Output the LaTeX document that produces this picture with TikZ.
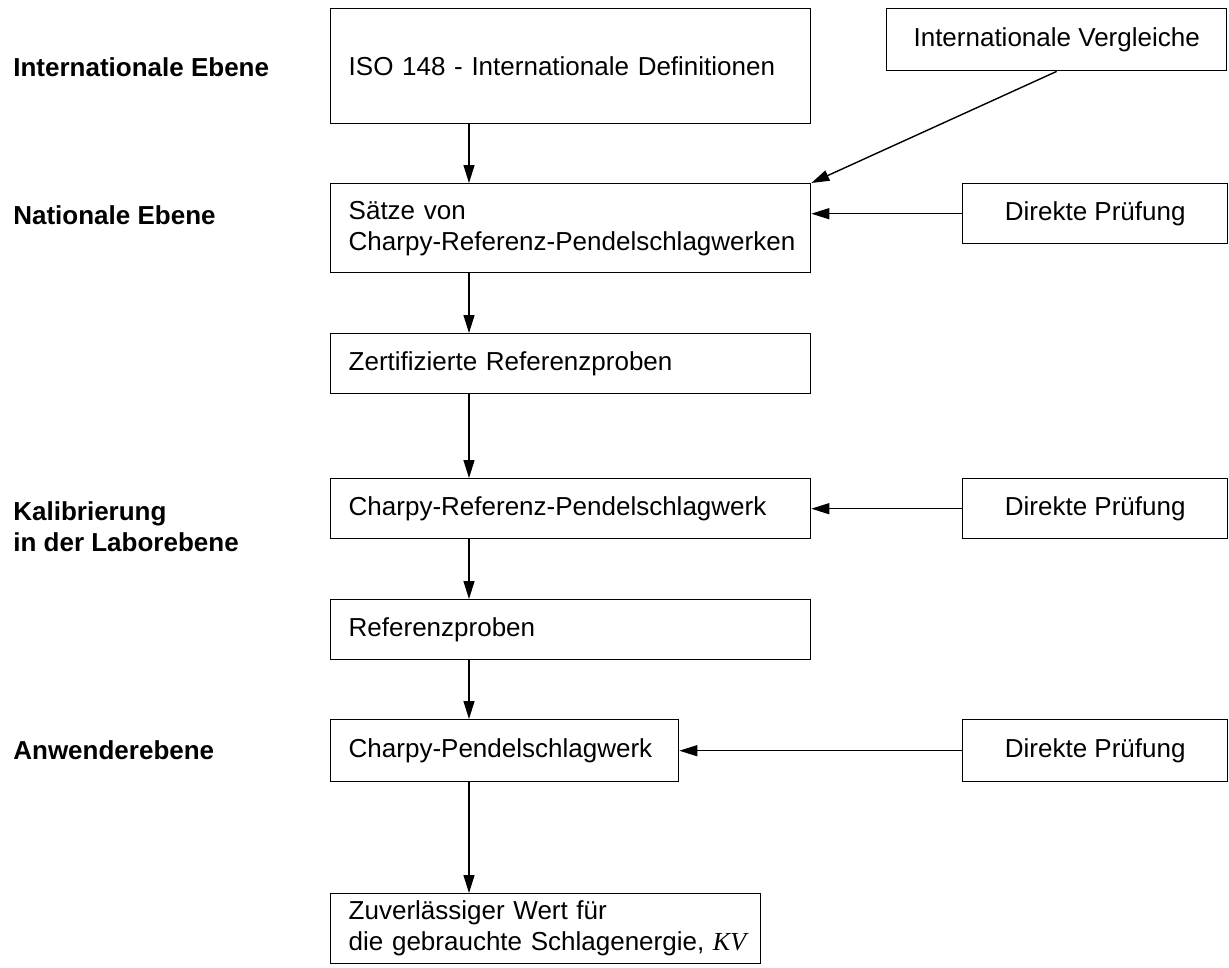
\documentclass[tikz,border=0pt]{standalone}
\usepackage{fontspec}
\setmainfont{Liberation Sans}
\newfontfamily\kvfont{Liberation Serif}
\usetikzlibrary{arrows.meta}

\begin{document}
\begin{tikzpicture}
      [x=0.02cm, y=-0.02cm,
       font=\fontsize{14.8}{17.6}\selectfont,
       level/.style={
           font=\fontsize{14.8}{17.6}\selectfont\bfseries,
           align=left,
           anchor=west,
           inner sep=0pt
         },
       stage/.style={
           draw=black, line width=0.8pt,
           anchor=north west,
           text width=9.6cm, inner xsep=0pt,
           align=left,
           execute at begin node={\leftskip=3.6mm},
           minimum height=1.2cm
         },
       check/.style={
           draw=black, line width=0.8pt,
           anchor=north west,
           minimum width=5.3cm, minimum height=1.2cm,
           align=center
         },
       flow/.style={
           draw=black, line width=0.8pt,
           -{Triangle[length=3.6mm,width=2.2mm]}
         },
       ]
    \useasboundingbox (0,0) rectangle (1229,967);
    \coordinate (spine) at (469,0);

    % levels on the left
    \node [level] (intl) at (13,67) {Internationale Ebene};
    \node [level] (natl) at (13,215) {Nationale Ebene};
    \node [level] (labor) at (13,527) {Kalibrierung\\in der Laborebene};
    \node [level] (anw) at (13,750) {Anwenderebene};

    % main chain
    \node [stage, minimum height=2.3cm] (iso) at (330,8) {ISO 148 - Internationale Definitionen};
    \node [stage, minimum height=1.78cm] (saetze) at (330,183) {
      Sätze von\\
      Charpy-Referenz-Pendelschlagwerken
    };
    \node [stage] (zert) at (330,333) {Zertifizierte Referenzproben};
    \node [stage] (crp) at (330,478) {Charpy-Referenz-Pendelschlagwerk};
    \node [stage] (ref) at (330,599) {Referenzproben};
    \node [stage, text width=6.96cm, minimum height=1.24cm] (cp) at (330,719) {Charpy-Pendelschlagwerk};
    \node [stage, text width=8.6cm, minimum height=1.4cm] (kv) at (330,893) {
      Zuverlässiger Wert für\\
      die gebrauchte Schlagenergie, {\kvfont\itshape KV}
    };

    % boxes on the right
    \node [check, minimum width=6.8cm, minimum height=1.24cm] (vergl) at (886,8) {Internationale Vergleiche};
    \node [check] (dp1) at (962,183) {Direkte Prüfung};
    \node [check] (dp2) at (962,478) {Direkte Prüfung};
    \node [check, minimum height=1.24cm] (dp3) at (962,719) {Direkte Prüfung};

    \draw [flow] (spine |- iso.south) -- (spine |- saetze.north);
    \draw [flow] (spine |- saetze.south) -- (spine |- zert.north);
    \draw [flow] (spine |- zert.south) -- (spine |- crp.north);
    \draw [flow] (spine |- crp.south) -- (spine |- ref.north);
    \draw [flow] (spine |- ref.south) -- (spine |- cp.north);
    \draw [flow] (spine |- cp.south) -- (spine |- kv.north);

    \draw [flow] (vergl.south) -- (saetze.north east);
    \draw [flow] (dp1.west) -- (dp1.west -| saetze.east);
    \draw [flow] (dp2.west) -- (dp2.west -| crp.east);
    \draw [flow] (dp3.west) -- (dp3.west -| cp.east);
  \end{tikzpicture}
\end{document}
